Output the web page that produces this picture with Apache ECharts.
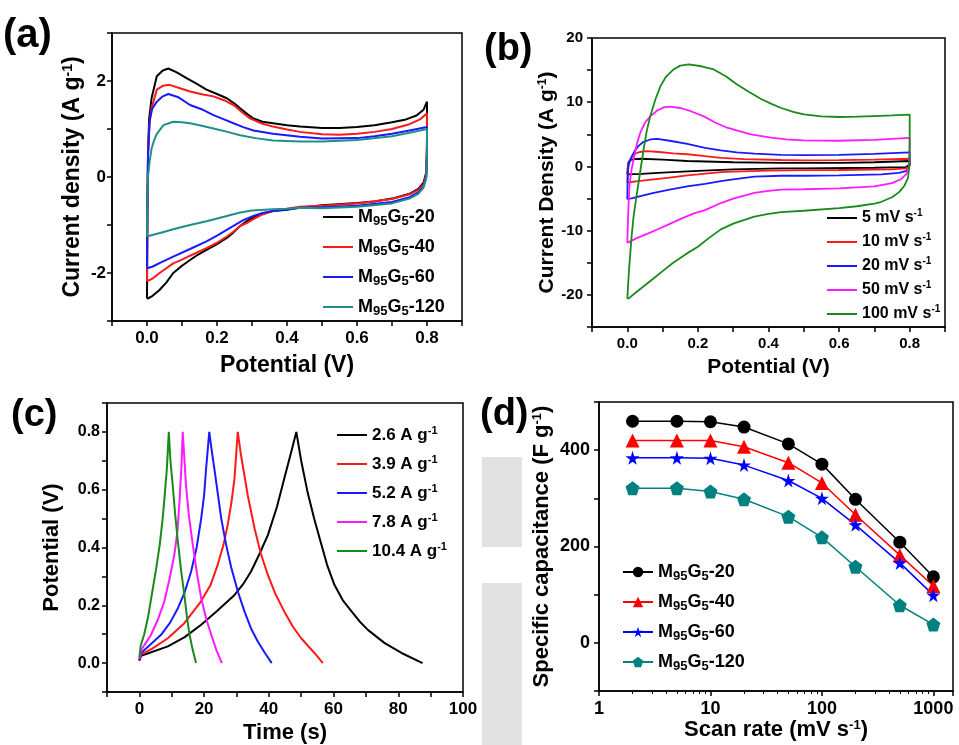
<!DOCTYPE html>
<html>
<head>
<meta charset="utf-8">
<script src="https://cdn.jsdelivr.net/npm/echarts@6/dist/echarts.min.js"></script>
<style>
  html, body { margin: 0; padding: 0; background: #fff; }
  #main { width: 959px; height: 745px; }
</style>
</head>
<body>
<div id="main"></div>
<script>
// ---- (a) CV of the four samples, [potential V, current density A/g] ----
const sampleNames = ['M95G5-20', 'M95G5-40', 'M95G5-60', 'M95G5-120'];
const cvA20 = [[0,-2.53],[0.001,-1.0],[0.003,0.5],[0.006,1.2],[0.013,1.64],[0.028,2.1],[0.045,2.22],[0.061,2.26],[0.085,2.18],[0.113,2.06],[0.14,1.95],[0.17,1.82],[0.2,1.73],[0.228,1.64],[0.25,1.53],[0.266,1.43],[0.285,1.32],[0.304,1.22],[0.33,1.15],[0.36,1.12],[0.4,1.08],[0.437,1.05],[0.5,1.02],[0.55,1.02],[0.6,1.04],[0.65,1.08],[0.7,1.14],[0.74,1.2],[0.77,1.28],[0.79,1.4],[0.8,1.57],[0.8,0.8],[0.798,0.1],[0.79,-0.12],[0.775,-0.25],[0.75,-0.35],[0.7,-0.45],[0.65,-0.51],[0.6,-0.54],[0.5,-0.59],[0.437,-0.64],[0.4,-0.68],[0.36,-0.71],[0.33,-0.76],[0.304,-0.84],[0.285,-0.92],[0.266,-1.02],[0.245,-1.17],[0.228,-1.27],[0.2,-1.4],[0.17,-1.52],[0.145,-1.62],[0.123,-1.73],[0.1,-1.85],[0.075,-2.0],[0.055,-2.2],[0.035,-2.36],[0.015,-2.48],[0.003,-2.53],[0,-2.53]];
const cvA40 = [[0,-2.17],[0.001,-0.8],[0.003,0.5],[0.007,1.1],[0.013,1.43],[0.028,1.82],[0.045,1.9],[0.064,1.92],[0.09,1.86],[0.123,1.78],[0.16,1.72],[0.19,1.68],[0.22,1.6],[0.247,1.5],[0.27,1.36],[0.294,1.22],[0.33,1.11],[0.36,1.05],[0.4,0.99],[0.437,0.94],[0.5,0.89],[0.55,0.88],[0.6,0.9],[0.65,0.94],[0.7,1.0],[0.75,1.1],[0.78,1.2],[0.8,1.33],[0.8,0.6],[0.798,0.05],[0.79,-0.15],[0.775,-0.27],[0.75,-0.36],[0.7,-0.46],[0.6,-0.55],[0.5,-0.6],[0.437,-0.62],[0.4,-0.66],[0.36,-0.71],[0.33,-0.78],[0.304,-0.88],[0.285,-0.96],[0.266,-1.02],[0.245,-1.15],[0.228,-1.24],[0.2,-1.37],[0.17,-1.48],[0.123,-1.64],[0.1,-1.72],[0.075,-1.8],[0.04,-1.98],[0.015,-2.12],[0,-2.17]];
const cvA60 = [[0,-1.9],[0.001,-0.6],[0.003,0.5],[0.008,1.2],[0.015,1.42],[0.028,1.57],[0.045,1.68],[0.061,1.73],[0.09,1.66],[0.123,1.5],[0.16,1.4],[0.19,1.29],[0.22,1.2],[0.247,1.12],[0.275,1.04],[0.304,0.97],[0.36,0.9],[0.437,0.84],[0.5,0.8],[0.6,0.81],[0.65,0.85],[0.7,0.9],[0.75,0.97],[0.8,1.04],[0.8,0.5],[0.798,0.0],[0.79,-0.2],[0.775,-0.32],[0.75,-0.42],[0.7,-0.52],[0.6,-0.6],[0.5,-0.63],[0.437,-0.64],[0.4,-0.67],[0.36,-0.71],[0.33,-0.75],[0.304,-0.81],[0.275,-0.9],[0.247,-1.02],[0.2,-1.22],[0.17,-1.34],[0.123,-1.5],[0.075,-1.66],[0.04,-1.78],[0.015,-1.87],[0,-1.9]];
const cvA120 = [[0,-1.24],[0.001,-0.6],[0.003,0.03],[0.008,0.35],[0.013,0.59],[0.02,0.76],[0.028,0.9],[0.047,1.08],[0.075,1.15],[0.1,1.14],[0.123,1.12],[0.15,1.08],[0.19,1.01],[0.23,0.94],[0.266,0.87],[0.31,0.81],[0.36,0.76],[0.437,0.74],[0.5,0.74],[0.6,0.77],[0.7,0.85],[0.75,0.92],[0.8,1.0],[0.8,0.5],[0.798,-0.02],[0.79,-0.22],[0.775,-0.35],[0.75,-0.45],[0.7,-0.55],[0.6,-0.62],[0.5,-0.65],[0.437,-0.64],[0.4,-0.66],[0.36,-0.67],[0.3,-0.7],[0.266,-0.74],[0.22,-0.83],[0.17,-0.92],[0.123,-1.0],[0.075,-1.09],[0.04,-1.16],[0.015,-1.21],[0,-1.24]];

// ---- (b) CV at different scan rates ----
const scanLabels = ['5 mV s-1', '10 mV s-1', '20 mV s-1', '50 mV s-1', '100 mV s-1'];
const cvB5 = [[0,-1.25],[0.001,-0.3],[0.003,0.6],[0.008,1.0],[0.02,1.15],[0.04,1.2],[0.1,1.05],[0.17,0.85],[0.3,0.65],[0.436,0.57],[0.5,0.55],[0.6,0.57],[0.7,0.65],[0.8,0.85],[0.8,0.3],[0.798,0],[0.79,-0.1],[0.7,-0.2],[0.5,-0.3],[0.436,-0.3],[0.3,-0.47],[0.2,-0.7],[0.1,-0.95],[0.04,-1.15],[0,-1.25]];
const cvB10 = [[0,-2.5],[0.001,-1],[0.003,0.3],[0.01,1.2],[0.018,1.9],[0.035,2.25],[0.056,2.4],[0.09,2.25],[0.13,2.05],[0.17,1.9],[0.22,1.6],[0.265,1.35],[0.33,1.15],[0.436,1.0],[0.5,0.95],[0.6,0.97],[0.7,1.05],[0.8,1.2],[0.8,0.5],[0.798,-0.1],[0.79,-0.3],[0.75,-0.45],[0.6,-0.55],[0.5,-0.58],[0.4,-0.65],[0.3,-0.8],[0.265,-0.9],[0.2,-1.25],[0.17,-1.4],[0.12,-1.75],[0.075,-2.0],[0.03,-2.3],[0,-2.5]];
const cvB20 = [[0,-5.1],[0.001,-2],[0.003,0],[0.008,1.0],[0.013,1.6],[0.022,2.5],[0.032,3.2],[0.045,3.8],[0.065,4.2],[0.085,4.3],[0.12,4.0],[0.17,3.5],[0.22,2.9],[0.265,2.5],[0.31,2.2],[0.36,2.0],[0.436,1.8],[0.5,1.75],[0.6,1.8],[0.7,1.95],[0.8,2.2],[0.8,1],[0.798,-0.3],[0.79,-0.7],[0.77,-1.0],[0.72,-1.25],[0.6,-1.4],[0.5,-1.45],[0.436,-1.45],[0.36,-1.6],[0.3,-2.0],[0.265,-2.3],[0.22,-2.7],[0.17,-3.1],[0.12,-3.6],[0.075,-4.1],[0.04,-4.6],[0.015,-4.95],[0,-5.1]];
const cvB50 = [[0,-11.9],[0.002,-8],[0.006,-3],[0.012,-0.5],[0.018,1.1],[0.027,3.5],[0.037,5.3],[0.05,6.8],[0.065,7.8],[0.085,8.7],[0.103,9.2],[0.12,9.3],[0.15,9.1],[0.18,8.6],[0.217,7.8],[0.25,6.8],[0.28,6.1],[0.31,5.6],[0.35,5.0],[0.407,4.5],[0.45,4.2],[0.5,4.05],[0.6,4.0],[0.7,4.15],[0.8,4.45],[0.8,2],[0.799,0],[0.79,-1.2],[0.775,-2.0],[0.75,-2.6],[0.7,-3.1],[0.6,-3.4],[0.5,-3.55],[0.436,-3.6],[0.4,-3.8],[0.36,-4.1],[0.3,-5.0],[0.265,-5.7],[0.22,-6.8],[0.189,-7.3],[0.15,-8.2],[0.122,-8.9],[0.09,-9.7],[0.056,-10.5],[0.025,-11.2],[0,-11.9]];
const cvB100 = [[0,-20.6],[0.005,-16],[0.012,-11],[0.018,-7.7],[0.025,-5],[0.032,-2.5],[0.046,2.6],[0.055,5.5],[0.065,7.8],[0.08,10.5],[0.094,12.5],[0.11,14],[0.131,15.1],[0.15,15.7],[0.174,15.9],[0.21,15.6],[0.245,15.1],[0.28,14.0],[0.31,12.8],[0.345,11.6],[0.379,10.5],[0.41,9.7],[0.436,9.1],[0.47,8.5],[0.5,8.1],[0.55,7.8],[0.6,7.7],[0.65,7.75],[0.7,7.85],[0.75,7.95],[0.8,8.07],[0.8,4],[0.799,0],[0.795,-1.8],[0.785,-3.0],[0.77,-4.0],[0.75,-4.8],[0.72,-5.5],[0.7,-5.8],[0.65,-6.2],[0.6,-6.5],[0.5,-6.9],[0.436,-7.1],[0.4,-7.4],[0.36,-7.8],[0.3,-8.9],[0.265,-9.8],[0.23,-11.2],[0.2,-12.5],[0.17,-13.5],[0.13,-15.0],[0.1,-16.3],[0.075,-17.4],[0.05,-18.5],[0.025,-19.6],[0.005,-20.5],[0,-20.6]];

// ---- (c) charge-discharge curves, [time s, potential V] ----
const currentLabels = ['2.6 A g-1', '3.9 A g-1', '5.2 A g-1', '7.8 A g-1', '10.4 A g-1'];
const gcd26 = [[0,0.008],[0.5,0.025],[3,0.035],[8.8,0.058],[14,0.09],[19,0.132],[24,0.18],[29.4,0.236],[32,0.272],[34.5,0.317],[37,0.375],[39.7,0.443],[42.5,0.54],[44.8,0.64],[46.8,0.725],[48.5,0.8],[50,0.7],[52,0.59],[54,0.5],[56,0.42],[58,0.34],[60.3,0.27],[63,0.215],[65.5,0.18],[68,0.145],[70.6,0.115],[75.8,0.069],[81,0.035],[87.5,0]];
const gcd39 = [[0,0.008],[0.5,0.03],[4,0.05],[8.8,0.086],[13.9,0.138],[19,0.213],[22,0.27],[24.2,0.34],[26,0.41],[27.3,0.478],[28.5,0.56],[29.4,0.64],[30.4,0.8],[31.4,0.72],[33.5,0.58],[35.6,0.466],[37.5,0.38],[39.7,0.305],[42,0.24],[44.8,0.178],[47.5,0.125],[50,0.086],[54.1,0.035],[56.7,0]];
const gcd52 = [[0,0.01],[0.5,0.035],[3,0.06],[6.7,0.098],[9.5,0.14],[11.9,0.19],[14,0.245],[16,0.317],[17.7,0.4],[19.1,0.5],[20,0.58],[20.6,0.67],[21.6,0.8],[22.3,0.74],[23.2,0.67],[25.3,0.5],[26.8,0.41],[28.4,0.33],[30.5,0.245],[32.5,0.178],[34.5,0.12],[36.6,0.075],[38.8,0.035],[40.9,0]];
const gcd78 = [[0,0.015],[0.5,0.045],[2,0.07],[3.6,0.098],[5.7,0.15],[7.7,0.213],[9.3,0.29],[10.8,0.374],[11.8,0.46],[12.4,0.56],[13,0.68],[13.4,0.8],[14.4,0.616],[15.3,0.51],[16.5,0.41],[17.8,0.31],[19.1,0.225],[20.6,0.155],[22.2,0.098],[23.8,0.045],[25.5,0]];
const gcd104 = [[0,0.02],[0.4,0.06],[1.5,0.1],[2.6,0.155],[3.9,0.24],[5.2,0.328],[6.3,0.41],[7.2,0.5],[7.9,0.59],[8.5,0.673],[9.1,0.8],[9.6,0.7],[10.3,0.616],[11.1,0.51],[11.9,0.42],[12.9,0.32],[13.9,0.236],[14.7,0.16],[15.5,0.098],[16.5,0.045],[17.5,0]];

// ---- (d) specific capacitance vs scan rate ----
const scanRates = [2, 5, 10, 20, 50, 100, 200, 500, 1000];
const capM20 = [460, 460, 459, 448, 413, 371, 298, 209, 137];
const capM40 = [420, 420, 420, 407, 374, 332, 266, 182, 118];
const capM60 = [384, 384, 383, 369, 337, 300, 245, 166, 99];
const capM120 = [321, 321, 314, 298, 262, 219, 158, 78, 38];

const FONT = '"Liberation Sans", Arial, sans-serif';
const STAR = 'path://M50,0 L61,35 L98,35 L68,57 L79,91 L50,70 L21,91 L32,57 L2,35 L39,35 Z';
const PENTA = 'path://M50,0 L98,35 L79,91 L21,91 L2,35 Z';

const colorsA = ['#000000', '#ff1a1a', '#1a1aff', '#1f8f89'];
const colorsB = ['#000000', '#ff1a1a', '#1a1aff', '#ff1aff', '#1a8a1a'];
const colorsD = ['#000000', '#ff0000', '#0000ff', '#008080'];

function subRich(size) {
  return {
    sub: { fontSize: size, fontWeight: 'bold', fontFamily: FONT, color: '#000', verticalAlign: 'bottom', lineHeight: 10 },
    sup: { fontSize: size - 1, fontWeight: 'bold', fontFamily: FONT, color: '#000', verticalAlign: 'top', lineHeight: 10 }
  };
}
const sampleFmt = name => name.replace(' (d)', '').replace(/^M(\d+)G(\d+)/, 'M{sub|$1}G{sub|$2}');
const unitFmt = name => name.replace(/-1$/, '{sup|-1}');

// show labels only on every other tick inside the data range
function stepLabel(step, lo, hi, digits) {
  return v => {
    const k = Math.round(v / step);
    if (Math.abs(v - k * step) < 1e-6 && v >= lo - 1e-6 && v <= hi + 1e-6) {
      return (k * step).toFixed(digits);
    }
    return '';
  };
}

function axis(grid, opts) {
  return Object.assign({
    gridIndex: grid,
    type: 'value',
    splitLine: { show: false },
    axisLine: { show: true, onZero: false, lineStyle: { color: '#000', width: 1.5 } },
    axisTick: { show: true, inside: false, length: 5, lineStyle: { color: '#000', width: 1.5 } },
    nameLocation: 'middle'
  }, opts);
}

function labelStyle(size, margin, formatter) {
  return { color: '#000', fontWeight: 'bold', fontFamily: FONT, fontSize: size, margin: margin, formatter: formatter };
}
function nameStyle(size) {
  return { color: '#000', fontWeight: 'bold', fontFamily: FONT, fontSize: size, rich: subRich(size - 8) };
}

const series = [];
[cvA20, cvA40, cvA60, cvA120].forEach((d, i) => series.push({
  type: 'line', name: sampleNames[i], xAxisIndex: 0, yAxisIndex: 0, data: d,
  showSymbol: false, symbol: 'none', lineStyle: { width: 2, color: colorsA[i] }, itemStyle: { color: colorsA[i] }
}));
[cvB5, cvB10, cvB20, cvB50, cvB100].forEach((d, i) => series.push({
  type: 'line', name: scanLabels[i], xAxisIndex: 1, yAxisIndex: 1, data: d,
  showSymbol: false, symbol: 'none', lineStyle: { width: 1.8, color: colorsB[i] }, itemStyle: { color: colorsB[i] }
}));
[gcd26, gcd39, gcd52, gcd78, gcd104].forEach((d, i) => series.push({
  type: 'line', name: currentLabels[i], xAxisIndex: 2, yAxisIndex: 2, data: d,
  showSymbol: false, symbol: 'none', lineStyle: { width: 2, color: colorsB[i] }, itemStyle: { color: colorsB[i] }
}));
const symbolsD = ['circle', 'triangle', STAR, PENTA];
[capM20, capM40, capM60, capM120].forEach((vals, i) => series.push({
  type: 'line', name: sampleNames[i] + ' (d)', xAxisIndex: 3, yAxisIndex: 3,
  data: scanRates.map((r, j) => [r, vals[j]]),
  symbol: symbolsD[i], symbolSize: i === 0 ? 13 : 14,
  lineStyle: { width: 1.5, color: colorsD[i] }, itemStyle: { color: colorsD[i] }
}));

// lineIcon: plain line swatch for the curves without markers
function legendAt(left, top, names, gap, size, lineH, fmt, lineIcon) {
  const lg = {
    orient: 'vertical', left: left, top: top, data: names,
    itemWidth: 30, itemHeight: 13, itemGap: gap, padding: 0,
    formatter: fmt, selectedMode: false,
    textStyle: { color: '#000', fontWeight: 'bold', fontFamily: FONT, fontSize: size, lineHeight: lineH, rich: subRich(size - 5) }
  };
  if (lineIcon) {
    lg.icon = 'rect';
    lg.itemHeight = 2;
  }
  return lg;
}

const option = {
  backgroundColor: '#fff',
  animation: false,
  grid: [
    { left: 112, top: 33, width: 350, height: 288 },
    { left: 592, top: 38, width: 353, height: 289 },
    { left: 107, top: 403, width: 356, height: 291 },
    { left: 599, top: 402, width: 354, height: 289 }
  ].map(g => Object.assign({ show: true, borderColor: '#000', borderWidth: 1.5, backgroundColor: 'transparent' }, g)),
  xAxis: [
    axis(0, { min: -0.1, max: 0.9, interval: 0.1, name: 'Potential (V)', nameGap: 33,
      nameTextStyle: nameStyle(23), axisLabel: labelStyle(17, 9, stepLabel(0.2, 0, 0.8, 1)) }),
    axis(1, { min: -0.1, max: 0.9, interval: 0.1, name: 'Potential (V)', nameGap: 30,
      nameTextStyle: nameStyle(21), axisLabel: labelStyle(15, 9, stepLabel(0.2, 0, 0.8, 1)) }),
    axis(2, { min: -10, max: 100, interval: 10, name: 'Time (s)', nameGap: 30,
      nameTextStyle: nameStyle(22), axisLabel: labelStyle(17, 9, stepLabel(20, 0, 100, 0)) }),
    axis(3, { type: 'log', logBase: 10, min: 1, max: 1500, name: 'Scan rate (mV s{sup|-1})', nameGap: 28,
      nameTextStyle: nameStyle(22),
      axisLabel: Object.assign(labelStyle(18, 9, v => (v > 1100 ? '' : String(Math.round(v)))), { showMaxLabel: false }),
      minorTick: { show: true, splitNumber: 9, length: 3, lineStyle: { color: '#000', width: 1 } } })
  ],
  yAxis: [
    axis(0, { min: -3, max: 3, interval: 1, name: 'Current density (A g{sup|-1})', nameGap: 28,
      nameTextStyle: nameStyle(23), axisLabel: labelStyle(17, 6, stepLabel(2, -2, 2, 0)) }),
    axis(1, { min: -25, max: 20, interval: 5, name: 'Current Density (A g{sup|-1})', nameGap: 33,
      nameTextStyle: nameStyle(21), axisLabel: labelStyle(15, 9, stepLabel(10, -20, 20, 0)) }),
    axis(2, { min: -0.1, max: 0.9, interval: 0.1, name: 'Potential (V)', nameGap: 44,
      nameTextStyle: nameStyle(22), axisLabel: labelStyle(16, 7, stepLabel(0.2, 0, 0.8, 1)) }),
    axis(3, { min: -100, max: 500, interval: 100, name: 'Specific capacitance (F g{sup|-1})', nameGap: 46,
      nameTextStyle: nameStyle(22), axisLabel: labelStyle(18, 9, stepLabel(200, 0, 400, 0)) })
  ],
  legend: [
    legendAt(323, 206, sampleNames, 8, 18, 22, sampleFmt, true),
    legendAt(827, 208, scanLabels, 4, 16, 20, unitFmt, true),
    legendAt(337, 425, currentLabels, 9, 17, 20, unitFmt, true),
    legendAt(622, 561, sampleNames.map(n => n + ' (d)'), 8, 18, 22, sampleFmt, false)
  ],
  graphic: [
    { type: 'rect', shape: { x: 482, y: 457, width: 40, height: 90 }, style: { fill: '#e2e2e2' }, z: -10 },
    { type: 'rect', shape: { x: 482, y: 583, width: 40, height: 162 }, style: { fill: '#e2e2e2' }, z: -10 },
    { type: 'text', left: 3, top: 16, style: { text: '(a)', font: 'bold 40px ' + FONT, fill: '#000' } },
    { type: 'text', left: 484, top: 31, style: { text: '(b)', font: 'bold 38px ' + FONT, fill: '#000' } },
    { type: 'text', left: 11, top: 397, style: { text: '(c)', font: 'bold 38px ' + FONT, fill: '#000' } },
    { type: 'text', left: 480, top: 396, style: { text: '(d)', font: 'bold 38px ' + FONT, fill: '#000' } }
  ],
  series: series
};

const chart = echarts.init(document.getElementById('main'), null, { renderer: 'canvas' });
chart.setOption(option);
</script>
</body>
</html>
